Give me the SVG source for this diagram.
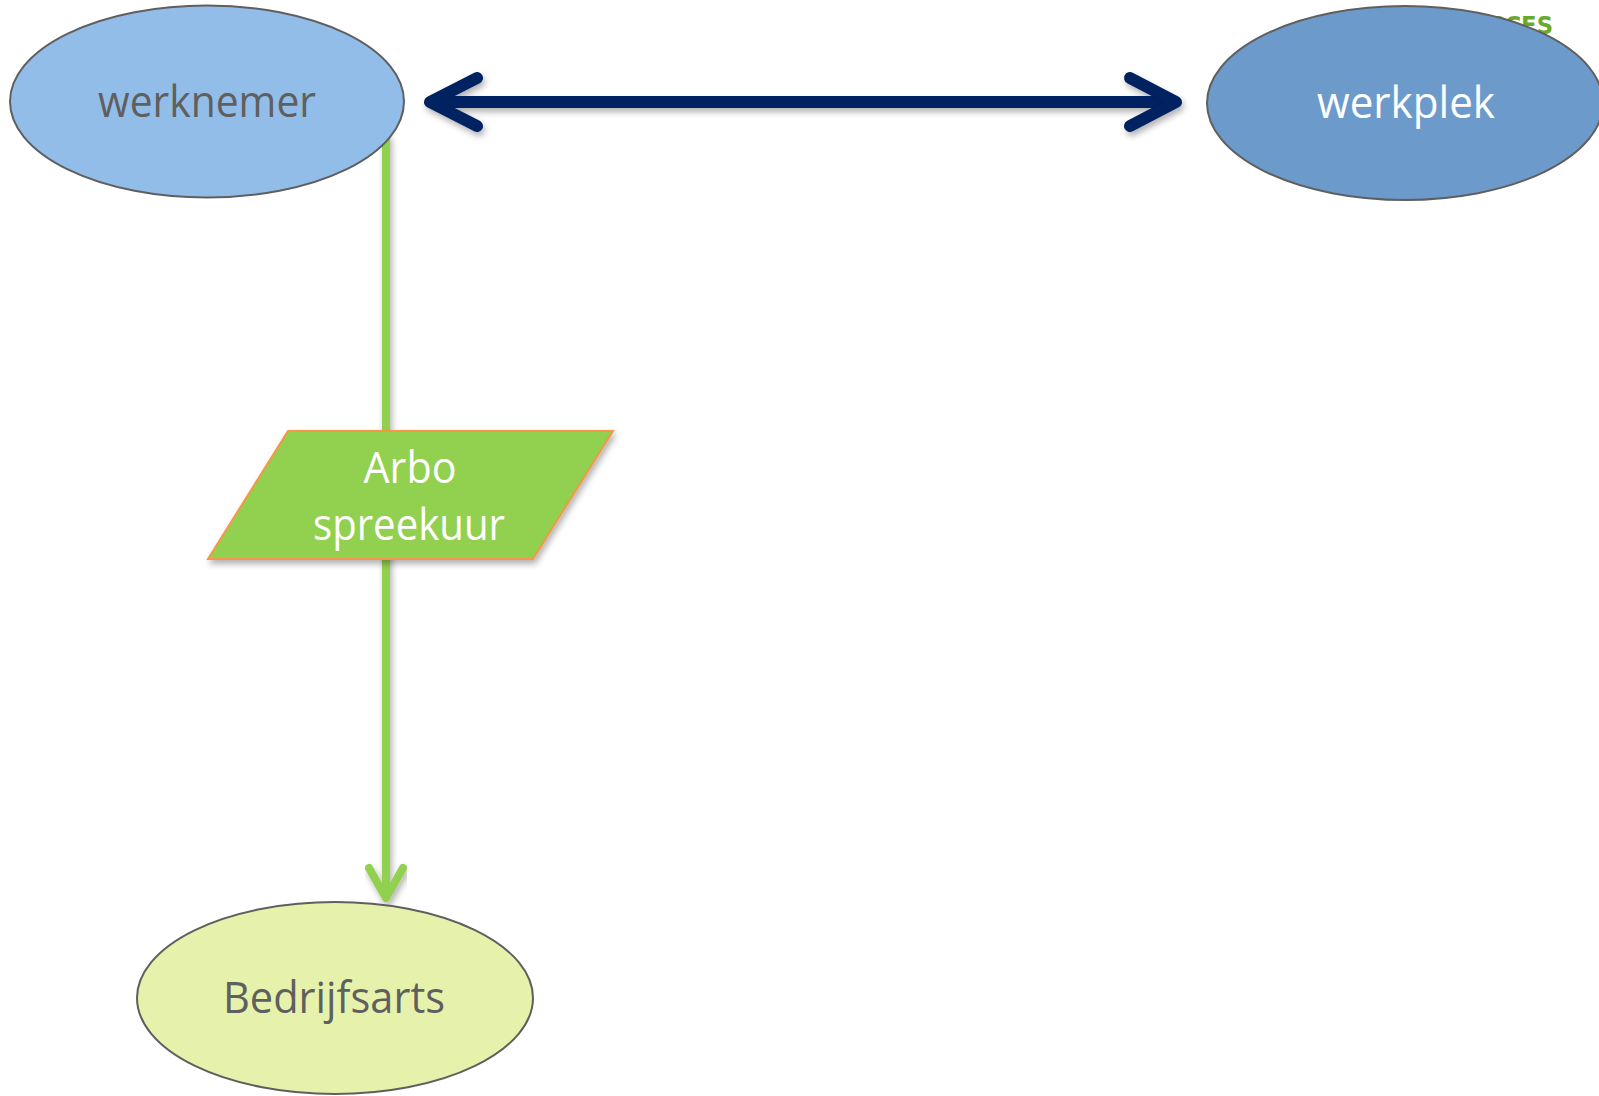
<svg xmlns="http://www.w3.org/2000/svg" width="1599" height="1096" viewBox="0 0 1599 1096">
<style>
.lbl{font-family:"Open Sans","Liberation Sans",sans-serif;font-size:44px;text-anchor:middle}
.dark{fill:#5f5f5f}
.light{fill:#ffffff}
.ell{stroke:#5f5f5f;stroke-width:2}
</style>
<defs>
<filter id="sh" x="-10%" y="-30%" width="120%" height="160%">
<feDropShadow dx="2" dy="4" stdDeviation="3" flood-color="#000" flood-opacity="0.3"/>
</filter>
</defs>
<rect width="1599" height="1096" fill="#ffffff"/>
<text x="1553" y="34" font-family="'DejaVu Sans Condensed','Liberation Sans',sans-serif" font-weight="bold" font-size="24" fill="#6aaa2a" text-anchor="end" textLength="100" lengthAdjust="spacingAndGlyphs">SUCCES</text>
<g id="connectors">
<g filter="url(#sh)" stroke="#002060" stroke-width="12" stroke-linecap="round" stroke-linejoin="round" fill="none">
<line x1="432" y1="102" x2="1172" y2="102"/>
<polyline points="477,78 430,102 477,126"/>
<polyline points="1130,78 1176,102 1130,126"/>
</g>
<g filter="url(#sh)" stroke="#92d050" stroke-width="8" stroke-linecap="round" stroke-linejoin="round" fill="none">
<line x1="386" y1="137" x2="386" y2="896"/>
<polyline points="369,868 386,898 403,868"/>
</g>
</g>
<g id="werknemer">
<ellipse class="ell" cx="207" cy="101.5" rx="197" ry="96" fill="#93bde9"/>
<text class="lbl dark" x="207" y="117" textLength="218" lengthAdjust="spacingAndGlyphs">werknemer</text>
</g>
<g id="werkplek">
<ellipse class="ell" cx="1405" cy="103" rx="198" ry="97" fill="#6c9bcb"/>
<text class="lbl light" x="1406" y="118" textLength="178" lengthAdjust="spacingAndGlyphs">werkplek</text>
</g>
<g id="arbo">
<polygon filter="url(#sh)" points="288,431 613,431 533,559 208,559" fill="#92d050" stroke="#f79646" stroke-width="2"/>
<text class="lbl light" x="410" y="483" textLength="93" lengthAdjust="spacingAndGlyphs">Arbo</text>
<text class="lbl light" x="409" y="540" textLength="192" lengthAdjust="spacingAndGlyphs">spreekuur</text>
</g>
<g id="bedrijfsarts">
<ellipse class="ell" cx="335" cy="998" rx="198" ry="96" fill="#e6f2ab"/>
<text class="lbl dark" x="334" y="1013" textLength="222" lengthAdjust="spacingAndGlyphs">Bedrijfsarts</text>
</g>
</svg>
